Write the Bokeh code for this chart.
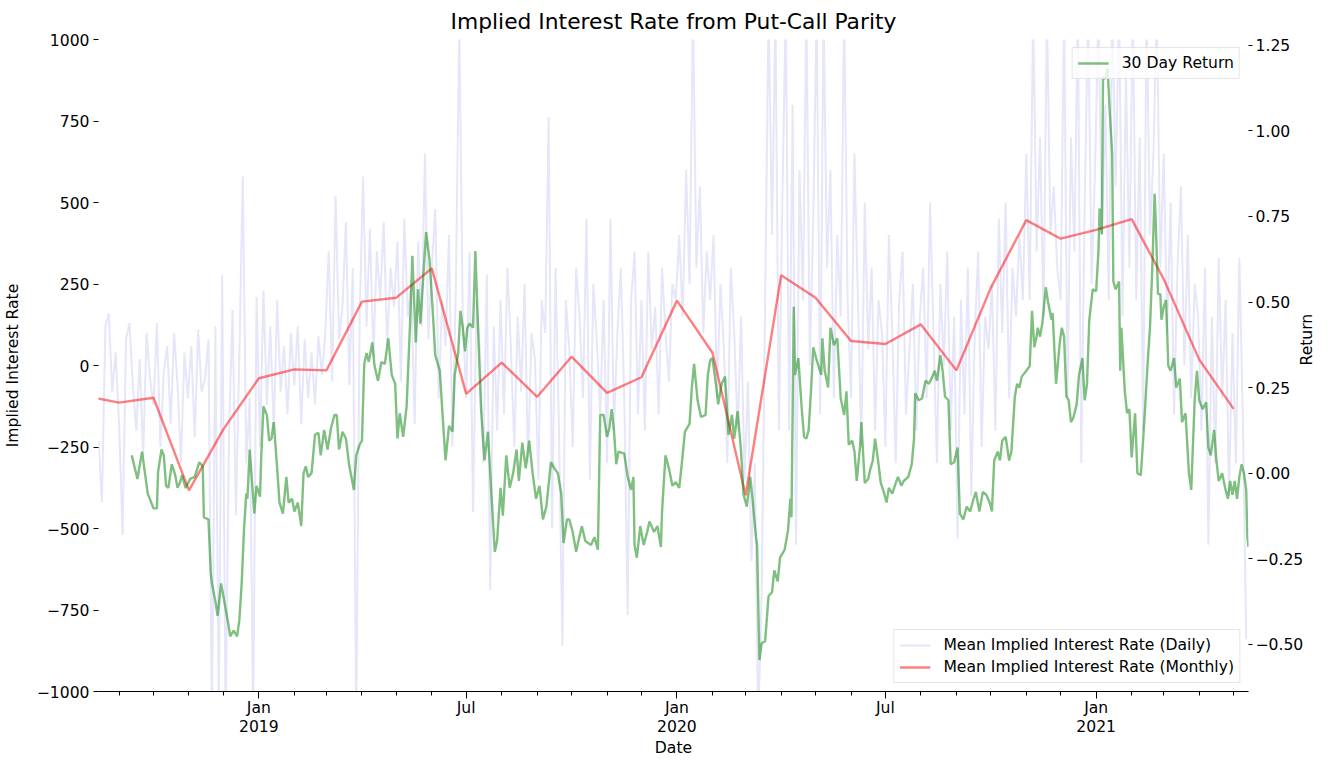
import math
import pandas as pd
from bokeh.plotting import figure
from bokeh.models import Range1d, LinearAxis, FixedTicker, Legend, LegendItem
from bokeh.embed import file_html
from bokeh.resources import INLINE

# ---------------- data ----------------
start_date = "2018-08-14"
end_date = "2021-05-14"

# mean implied interest rate, daily (sampled every 3 days from start_date)
daily_rate = [
    -230, -420, 120, 160, -80, 40,
    -180, -520, 80, 130, -60, -200, 20, -280, 100, -40,
    -120, 130, -250, -20, 60, -180, 100, -60, -300, 40,
    -100, 60, -220, 110, -80, -40, 80, -1100, 120, -1050,
    277, -1100, -200, 170, -460, 40, 580, -300, -100, -1100, 210,
    -250, 230, -120, 120, -200, 200, -80, 60, -150, 100,
    -60, 120, -180, 80, -100, 40, -120, 90, -30,
    100, 350, -50, 520, 80, 180, 440, -60, 300, -1100, 150,
    580, 120, 420, 30, 350, 200, 440, 60, 300, 180,
    380, -50, 450, 150, 250, -180, 380, 120, 650, 80,
    300, 480, -100, 200, 60, 400, -250, 250, 1050, 150,
    -100, 350, -450, 200, 50, -300, 280, -690, 120, -200,
    200, -150, 300, 60, -250, 150, -80, 250, -300, 100, 20,
    -350, 200, 100, 762, -500, 300, -200, -860, 200, 50,
    -250, 300, 150, -100, 450, -350, 250, 80, -150, 200,
    -300, 450, -200, 100, 300, -100, -765, 200, 350, -150,
    200, -200, 350, 50, 180, -150, 300, 100, -50, 250, 200,
    400, 150, 600, 250, 1100, 300, 550, 100, 350, 200,
    400, -100, 250, 50, -300, 300, 100, -200, 150, -350,
    -50, -600, -300, -1100, -700, 200, 1100, 400, 1100, -200,
    500, 1100, -200, 800, -550, 600, 200, 1100, 0, 450,
    1100, -150, 1100, 300, 600, -100, 400, 150, 1100, 200,
    -100, 650, 200, -250, 500, 50, 300, -200, 200, 100,
    -250, 400, 100, -300, 200, 350, -150, 50, 250, -200, 150,
    300, -100, 500, 100, -300, 250, 0, 350, -200, 150,
    -530, 200, -150, 300, -400, 100, 350, -250, 150, 50,
    250, -200, 450, 100, 500, -100, 300, 150, 400, 200,
    650, 200, 1100, 350, 700, 150, 1100, 400, 550, 300,
    200, 1100, -100, 700, 350, 1100, -300, 500, 1100, 250, 600,
    1100, 400, 800, 200, 1100, 550, 1100, 150, 900, 300,
    1100, 200, 700, -200, 1100, 400, 650, 1100, 300,
    650, 100, 500, -150, 300, 550, 0, 400, -100, 250, 150,
    -200, 300, -550, 150, -300, 330, -100, 200, -400, 100,
    -300, 330, -150, -840,
]

# mean implied interest rate, monthly (month starts from Aug 2018)
monthly_start = "2018-08-01"
monthly_rate = [
    -93, -114, -99, -383, -196,
    -39, -12, -15, 196, 208, 298, -87, 9, -96, 27, -84, -36,
    199, 39, -398, 277, 208, 75, 66, 126, -15, 238, 446, 389,
    416, 449, 265, 18, -133,
]

# 30 day return: day offset from start_date, and value
return_day = [
    29, 34, 38, 43, 48, 51, 52, 55, 57, 59, 61, 64, 67, 69, 71, 73, 76, 80, 84, 88,
    91, 92, 96, 98, 99, 102, 104, 107, 109, 111, 113, 115, 118, 121, 123, 125, 127, 129, 130, 132,
    134, 136, 138, 141, 142, 144, 147, 149, 151, 153, 156, 158, 161, 164, 166, 169, 171, 174, 177, 179,
    181, 183, 186, 189, 192, 194, 197, 200, 203, 206, 208, 210, 213, 216, 219, 223, 225, 228, 230, 232,
    234, 236, 239, 241, 244, 247, 250, 253, 256, 259, 261, 263, 266, 269, 272, 274, 277, 279, 281, 284,
    286, 289, 292, 294, 298, 301, 303, 306, 309, 311, 314, 316, 318, 320, 322, 324, 327, 329, 332, 334,
    337, 340, 343, 346, 348, 351, 353, 356, 359, 362, 365, 367, 370, 373, 376, 379, 382, 385, 388, 391,
    395, 398, 401, 404, 406, 409, 411, 414, 417, 419, 422, 425, 430, 433, 436, 438, 441, 444, 446, 448,
    450, 452, 454, 459, 462, 465, 467, 468, 470, 473, 476, 479, 481, 485, 488, 491, 492, 495, 498, 501,
    504, 507, 509, 512, 516, 518, 520, 523, 526, 530, 532, 534, 536, 539, 541, 544, 547, 550, 553, 555,
    558, 561, 563, 566, 569, 571, 574, 575, 577, 579, 582, 585, 588, 590, 593, 595, 599, 602, 604, 605,
    607, 608, 611, 614, 616, 618, 620, 622, 624, 627, 631, 632, 634, 637, 639, 642, 645, 648, 651, 653,
    655, 658, 660, 662, 665, 666, 669, 672, 674, 676, 678, 681, 683, 686, 688, 690, 693, 696, 698, 701,
    703, 707, 710, 712, 713, 716, 719, 722, 725, 728, 730, 732, 735, 737, 739, 742, 744, 747, 750, 752,
    755, 758, 761, 764, 766, 769, 772, 775, 778, 780, 782, 785, 787, 789, 792, 795, 797, 800, 802, 804,
    806, 810, 813, 815, 817, 819, 820, 822, 824, 827, 829, 832, 833, 836, 839, 841, 843, 845, 847, 849,
    851, 854, 856, 859, 861, 863, 865, 868, 871, 873, 874, 876, 877, 879, 881, 883, 885, 886, 888, 891,
    892, 893, 896, 898, 900, 902, 905, 907, 910, 913, 916, 918, 920, 922, 923, 925, 927, 928, 930, 932,
    934, 936, 939, 941, 944, 946, 949, 952, 954, 957, 959, 961, 964, 967, 969, 971, 974, 976, 978, 981,
    984, 986, 988, 990, 992, 994, 996, 998, 1000, 1002, 1003, 1004,
]
return_30d = [
    0.052, -0.017, 0.063, -0.060, -0.103, -0.103, 0.003, 0.069, 0.052, -0.037, -0.043, 0.026, -0.006, -0.043, -0.029, -0.006, -0.043, -0.017, -0.011, 0.032,
    0.020, -0.129, -0.135, -0.290, -0.322, -0.374, -0.417, -0.322, -0.359, -0.397, -0.434, -0.477, -0.460, -0.477, -0.428, -0.322, -0.167, -0.060, -0.075, 0.069,
    -0.023, -0.118, -0.037, -0.069, 0.040, 0.195, 0.170, 0.095, 0.101, 0.149, 0.014, -0.086, -0.118, -0.011, -0.086, -0.075, -0.112, -0.086, -0.155, 0.000,
    0.020, -0.011, 0.000, 0.112, 0.118, 0.052, 0.126, 0.069, 0.132, 0.170, 0.170, 0.069, 0.121, 0.101, 0.020, -0.049, 0.052, 0.083, 0.095, 0.319,
    0.351, 0.325, 0.382, 0.313, 0.270, 0.325, 0.319, 0.394, 0.287, 0.261, 0.101, 0.175, 0.106, 0.195, 0.437, 0.635, 0.382, 0.537, 0.437, 0.598,
    0.704, 0.624, 0.463, 0.345, 0.299, 0.138, 0.037, 0.138, 0.121, 0.287, 0.351, 0.474, 0.425, 0.356, 0.425, 0.437, 0.425, 0.649, 0.362, 0.187,
    0.037, 0.121, -0.060, -0.230, -0.198, -0.043, -0.124, 0.052, -0.043, 0.000, 0.069, -0.023, 0.089, 0.014, 0.095, 0.000, -0.075, -0.037, -0.135, -0.098,
    0.032, 0.014, 0.000, -0.060, -0.204, -0.135, -0.135, -0.172, -0.230, -0.198, -0.155, -0.198, -0.210, -0.187, -0.224, 0.170, 0.170, 0.106, 0.132, 0.187,
    0.126, 0.026, 0.063, 0.057, -0.011, -0.049, -0.011, -0.210, -0.247, -0.155, -0.210, -0.172, -0.141, -0.172, -0.155, -0.216, -0.112, 0.052, 0.014, -0.037,
    -0.026, -0.043, 0.020, 0.121, 0.144, 0.250, 0.319, 0.213, 0.164, 0.170, 0.287, 0.330, 0.336, 0.261, 0.201, 0.261, 0.282, 0.112, 0.170, 0.101,
    0.181, 0.063, -0.060, -0.098, -0.011, -0.075, -0.187, -0.210, -0.546, -0.497, -0.491, -0.359, -0.348, -0.284, -0.316, -0.247, -0.224, -0.167, -0.075, -0.129,
    0.486, 0.287, 0.336, 0.187, 0.106, 0.101, 0.126, 0.239, 0.368, 0.330, 0.287, 0.394, 0.299, 0.250, 0.425, 0.374, 0.394, 0.218, 0.170, 0.239,
    0.083, 0.095, 0.063, -0.023, 0.083, 0.149, -0.029, -0.017, 0.014, 0.037, 0.101, 0.026, -0.029, -0.060, -0.086, -0.043, -0.060, -0.029, -0.011, -0.037,
    -0.023, -0.011, 0.026, 0.101, 0.233, 0.213, 0.218, 0.270, 0.261, 0.282, 0.299, 0.270, 0.345, 0.299, 0.224, 0.213, 0.026, 0.032, 0.075, -0.118,
    -0.135, -0.098, -0.112, -0.075, -0.055, -0.112, -0.055, -0.063, -0.086, -0.112, 0.037, 0.063, 0.037, 0.095, 0.106, 0.037, 0.063, 0.224, 0.261, 0.250,
    0.282, 0.299, 0.313, 0.474, 0.368, 0.399, 0.425, 0.399, 0.437, 0.543, 0.500, 0.448, 0.468, 0.261, 0.374, 0.425, 0.399, 0.224, 0.213, 0.149,
    0.161, 0.201, 0.287, 0.336, 0.213, 0.261, 0.448, 0.537, 0.532, 0.649, 0.773, 0.698, 1.158, 1.152, 1.184, 1.046, 0.934, 0.560, 0.537, 0.560,
    0.299, 0.425, 0.239, 0.175, 0.187, 0.046, 0.175, 0.000, -0.006, 0.149, 0.325, 0.425, 0.598, 0.816, 0.736, 0.523, 0.523, 0.448, 0.486, 0.506,
    0.313, 0.299, 0.336, 0.250, 0.276, 0.149, 0.175, 0.000, -0.049, 0.213, 0.299, 0.213, 0.187, 0.207, 0.075, 0.052, 0.126, 0.037, -0.023, 0.000,
    -0.049, -0.075, -0.023, -0.063, -0.023, -0.075, -0.011, 0.026, 0.000, -0.049, -0.187, -0.216,
]

# axis ranges and ticks
rate_range = (-1000, 1000)
return_range = (-0.638, 1.267)
rate_ticks = [-1000, -750, -500, -250, 0, 250, 500, 750, 1000]
return_ticks = [-0.50, -0.25, 0.00, 0.25, 0.50, 0.75, 1.00, 1.25]
x_tick_dates = ["2019-01-01", "2019-07-01", "2020-01-01", "2020-07-01", "2021-01-01"]
x_tick_labels = ["Jan\n2019", "Jul", "Jan\n2020", "Jul", "Jan\n2021"]

# ---------------- build ----------------
FONT = "DejaVu Sans"
FS = "15.6px"

start = pd.Timestamp(start_date)
daily_dates = pd.date_range(start, periods=len(daily_rate), freq="3D")
monthly_dates = pd.date_range(monthly_start, periods=len(monthly_rate), freq="MS")
return_dates = start + pd.to_timedelta(return_day, unit="D")


def ms(d):
    return pd.Timestamp(d).value / 1e6


p = figure(width=1328, height=760, x_axis_type="datetime",
           output_backend="svg", toolbar_location=None,
           x_range=Range1d(pd.Timestamp(start_date), pd.Timestamp(end_date)),
           y_range=Range1d(*rate_range),
           min_border_left=85, min_border_right=75, min_border_top=29, min_border_bottom=60)
p.extra_y_ranges = {"ret": Range1d(*return_range)}
p.outline_line_color = None
p.xgrid.visible = False
p.ygrid.visible = False
p.background_fill_color = "white"
p.border_fill_color = "white"

p.title.text = "Implied Interest Rate from Put-Call Parity"
p.title.align = "center"
p.title.text_font = FONT
p.title.text_font_size = "21.8px"
p.title.text_font_style = "normal"
p.title.text_color = "black"
p.title.standoff = 12
p.title.offset = 0

r_daily = p.line(daily_dates, daily_rate, line_color="#E6E6FA", line_width=2)
r_month = p.line(monthly_dates, monthly_rate, line_color="red", line_alpha=0.5, line_width=2.4)
r_ret = p.line(return_dates, return_30d, line_color="green", line_alpha=0.5, line_width=2.4,
               y_range_name="ret")


def style_axis(ax):
    ax.major_label_text_font = FONT
    ax.major_label_text_font_size = FS
    ax.major_label_text_color = "black"
    ax.axis_label_text_font = FONT
    ax.axis_label_text_font_size = FS
    ax.axis_label_text_font_style = "normal"
    ax.axis_label_text_color = "black"
    ax.major_tick_line_color = "black"
    ax.minor_tick_line_color = "black"
    ax.major_tick_in = 0
    ax.minor_tick_in = 0


# bottom axis
xa = p.xaxis[0]
style_axis(xa)
minor = [ms(d) for d in pd.date_range("2018-09-01", "2021-05-01", freq="MS")]
xa.ticker = FixedTicker(ticks=[ms(d) for d in x_tick_dates], minor_ticks=minor)
xa.major_label_overrides = {ms(d): lab for d, lab in zip(x_tick_dates, x_tick_labels)}
xa.major_label_text_line_height = 1.1
xa.axis_label_text_line_height = 1.0
xa.axis_label = "Date"
xa.axis_line_color = "black"
xa.major_tick_out = 7
xa.minor_tick_out = 4
xa.major_label_standoff = 0
xa.axis_label_standoff = 0

# left axis
ya = p.yaxis[0]
style_axis(ya)
ya.ticker = FixedTicker(ticks=rate_ticks, minor_ticks=[])
ya.major_label_overrides = {t: str(t).replace("-", "\u2212") for t in rate_ticks}
ya.axis_label = "Implied Interest Rate"
ya.axis_line_color = None
ya.major_tick_out = 5
ya.major_label_standoff = 4
ya.axis_label_standoff = 12

# right axis
ra = LinearAxis(y_range_name="ret", axis_label="Return")
style_axis(ra)
ra.ticker = FixedTicker(ticks=return_ticks, minor_ticks=[])
ra.major_label_overrides = {t: f"{t:.2f}".replace("-", "\u2212") for t in return_ticks}
ra.axis_line_color = None
ra.major_tick_out = 4
ra.major_label_standoff = 3
ra.axis_label_standoff = 1
ra.axis_label_orientation = math.pi / 2
p.add_layout(ra, "right")


def make_legend(items, loc):
    lg = Legend(items=items, location=loc)
    lg.label_text_font = FONT
    lg.label_text_font_size = FS
    lg.label_text_color = "black"
    lg.border_line_color = "#cccccc"
    lg.border_line_width = 1
    lg.background_fill_color = "white"
    lg.background_fill_alpha = 0.8
    lg.glyph_width = 31
    lg.glyph_height = 20
    lg.label_height = 20
    lg.label_standoff = 13
    lg.padding = 5
    lg.spacing = 2
    lg.margin = 8
    return lg


p.add_layout(make_legend([LegendItem(label="30 Day Return", renderers=[r_ret])], "top_right"), "center")
p.add_layout(make_legend([
    LegendItem(label="Mean Implied Interest Rate (Daily)", renderers=[r_daily]),
    LegendItem(label="Mean Implied Interest Rate (Monthly)", renderers=[r_month]),
], "bottom_right"), "center")

open("out.html", "w").write(file_html(p, INLINE))
